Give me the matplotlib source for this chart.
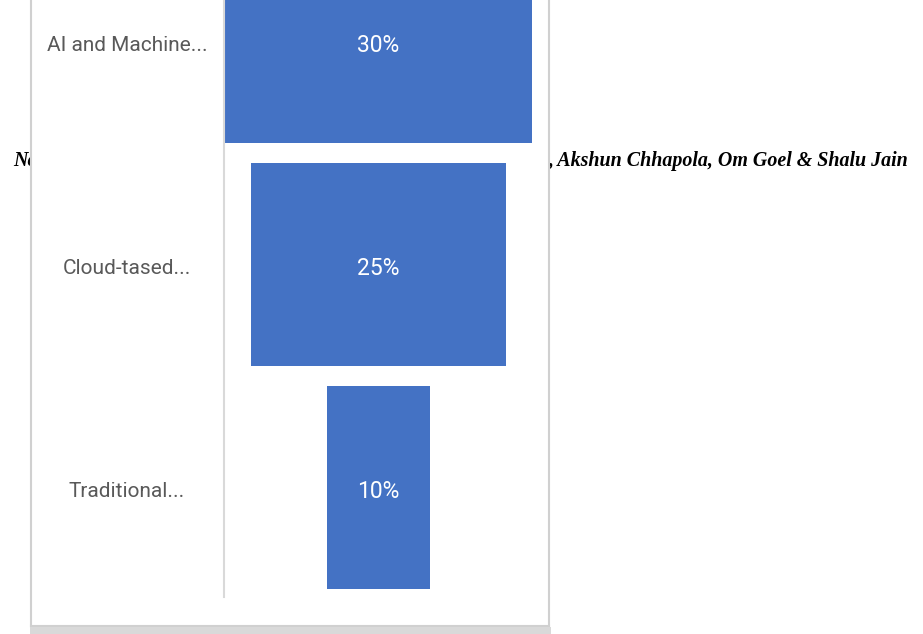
import matplotlib.pyplot as plt

# funnel data (top to bottom)
categories = ["AI and Machine...", "Cloud-tased...", "Traditional..."]
shares = [30, 25, 10]
value_labels = ["30%", "25%", "10%"]

W, H = 923, 634
fig = plt.figure(figsize=(W / 100, H / 100), dpi=100)
fig.patch.set_facecolor("white")


def px(x0, y0, x1, y1):
    # pixel box (top-left origin) -> figure fraction rect
    return [x0 / W, 1 - y1 / H, (x1 - x0) / W, (y1 - y0) / H]


# page header text sitting behind the chart box
fig.text(13 / W, 1 - 161 / H, "Nc", family="Liberation Serif", weight="bold",
         style="italic", fontsize=14.4, va="center", ha="left", zorder=-5)
fig.text(908 / W, 1 - 161 / H, ", Akshun Chhapola, Om Goel & Shalu Jain",
         family="Liberation Serif", weight="bold", style="italic",
         fontsize=14.4, va="center", ha="right", zorder=-5)

# chart box
box = fig.add_axes(px(31, -5, 549, 626), zorder=1)
box.set_facecolor("white")
box.set_xticks([])
box.set_yticks([])
for s in box.spines.values():
    s.set_color("#d0d0d0")
    s.set_linewidth(1.5)
box.spines["top"].set_visible(False)

# grey band under the box
band = fig.add_axes(px(30, 627, 551, 634), zorder=1)
band.set_facecolor("#d9d9d9")
band.set_xticks([])
band.set_yticks([])
for s in band.spines.values():
    s.set_visible(False)

# funnel axes
ax = fig.add_axes(px(224, 0, 533, 597), zorder=2)
ax.patch.set_alpha(0)
y = list(range(len(categories)))
lefts = [-v / 2 for v in shares]
ax.barh(y, shares, left=lefts, height=0.91, color="#4472c4")
ax.set_xlim(-15.1, 15.1)
ax.set_ylim(2.491, -0.186)

for i, lab in enumerate(value_labels):
    ax.annotate(lab, xy=(0, y[i]), xytext=(0, -4), textcoords="offset pixels",
                color="white", ha="center", va="center",
                family="Roboto", fontsize=16.5)

for i, cat in enumerate(categories):
    ax.annotate(cat, xy=(0, y[i]), xycoords=("axes fraction", "data"),
                xytext=(127 - 224, -4), textcoords="offset pixels",
                ha="center", va="center", color="#595959",
                family="Roboto", fontsize=15)

ax.set_xticks([])
ax.set_yticks([])
for name in ["top", "right", "bottom"]:
    ax.spines[name].set_visible(False)
ax.spines["left"].set_color("#d9d9d9")
ax.spines["left"].set_linewidth(1.5)

fig.savefig("out.png", dpi=100)
